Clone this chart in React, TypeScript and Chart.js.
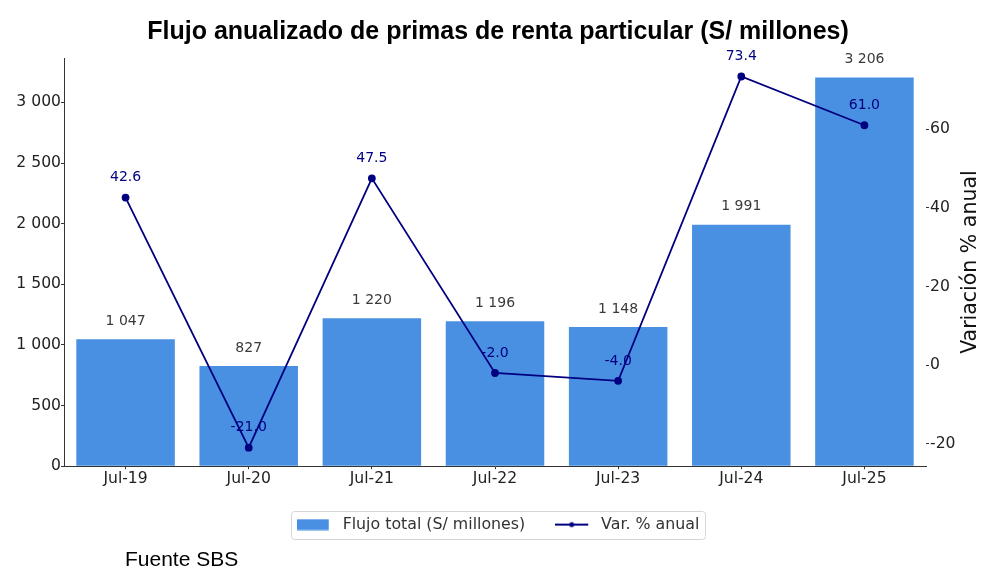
import { useEffect, useRef } from "react"
import { Chart, registerables } from "chart.js"

Chart.register(...registerables)

// datos
const periodos = ["Jul-19", "Jul-20", "Jul-21", "Jul-22", "Jul-23", "Jul-24", "Jul-25"]
const flujoTotal = [1047, 827, 1220, 1196, 1148, 1991, 3206]
const varAnual = [42.6, -21.0, 47.5, -2.0, -4.0, 73.4, 61.0]

// marcas de los ejes
const ticksIzquierda = [0, 500, 1000, 1500, 2000, 2500, 3000]
const ticksDerecha = [-20, 0, 20, 40, 60]

const TITULO = "Flujo anualizado de primas de renta particular (S/ millones)"
const ETIQUETA_BARRAS = "Flujo total (S/ millones)"
const ETIQUETA_LINEA = "Var. % anual"
const TITULO_DERECHA = "Variación % anual"

const AZUL = "#4a90e2"
const NAVY = "#000080"
const EJE = "#333333"
const TEXTO = "#222222"
const FUENTE_TICKS = 15.6

const fmtMiles = (v: number) =>
  Math.round(v).toString().replace(/\B(?=(\d{3})+(?!\d))/g, " ")

function crearMuestra(tipo: "barra" | "linea") {
  const c = document.createElement("canvas")
  c.width = 38
  c.height = 12
  const g = c.getContext("2d")!
  if (tipo === "barra") {
    g.fillStyle = AZUL
    g.fillRect(0, 0.5, 32, 11)
  } else {
    g.strokeStyle = NAVY
    g.fillStyle = NAVY
    g.lineWidth = 2
    g.beginPath()
    g.moveTo(0, 6)
    g.lineTo(33, 6)
    g.stroke()
    g.beginPath()
    g.arc(16.5, 6, 2.5, 0, Math.PI * 2)
    g.fill()
  }
  return c
}

const etiquetasValores = {
  id: "etiquetasValores",
  afterDatasetDraw(chart: any, args: any) {
    if (args.index !== 0) return
    const ctx = chart.ctx
    ctx.save()
    ctx.textAlign = "center"
    ctx.textBaseline = "middle"
    ctx.font = "14px 'DejaVu Sans'"
    ctx.fillStyle = "#3a3a3a"
    chart.getDatasetMeta(0).data.forEach((el: any, i: number) => {
      ctx.fillText(fmtMiles(flujoTotal[i]), el.x, el.y - 18)
    })
    ctx.fillStyle = NAVY
    chart.getDatasetMeta(1).data.forEach((el: any, i: number) => {
      ctx.fillText(varAnual[i].toFixed(1), el.x, el.y - 20)
    })
    ctx.restore()
  },
  afterDraw(chart: any) {
    const ctx = chart.ctx
    const area = chart.chartArea
    // título del eje derecho, leído de abajo hacia arriba
    ctx.save()
    ctx.translate(976, (area.top + area.bottom) / 2)
    ctx.rotate(-Math.PI / 2)
    ctx.textAlign = "center"
    ctx.textBaseline = "alphabetic"
    ctx.font = "20.5px 'DejaVu Sans'"
    ctx.fillStyle = "#111111"
    ctx.fillText(TITULO_DERECHA, 0, 0)
    ctx.restore()

    // marco de la leyenda
    const boxes = chart.legend?.legendHitBoxes || []
    if (!boxes.length) return
    const left = Math.min(...boxes.map((b: any) => b.left)) - 5.5
    const right = Math.max(...boxes.map((b: any) => b.left + b.width)) + 6
    const top = boxes[0].top - 5.5
    const h = boxes[0].height + 12
    ctx.save()
    ctx.strokeStyle = "#d6d6d6"
    ctx.lineWidth = 1
    ctx.beginPath()
    ctx.roundRect(Math.round(left) + 0.5, Math.round(top) + 0.5, Math.round(right - left), Math.round(h), 3)
    ctx.stroke()
    ctx.restore()
  },
}

export default function App() {
  const canvasRef = useRef<HTMLCanvasElement>(null)
  const chartInstance = useRef<Chart | null>(null)

  useEffect(() => {
    document.body.style.margin = "0"
    if (!canvasRef.current) return
    if (chartInstance.current) chartInstance.current.destroy()

    const muestraBarra = crearMuestra("barra")
    const muestraLinea = crearMuestra("linea")

    chartInstance.current = new Chart(canvasRef.current, {
      type: "bar",
      data: {
        labels: periodos,
        datasets: [
          {
            type: "bar",
            label: ETIQUETA_BARRAS,
            data: flujoTotal,
            backgroundColor: AZUL,
            yAxisID: "y",
            barPercentage: 0.8,
            categoryPercentage: 1.0,
            order: 1,
          },
          {
            type: "line",
            label: ETIQUETA_LINEA,
            data: varAnual,
            borderColor: NAVY,
            backgroundColor: NAVY,
            borderWidth: 1.8,
            pointRadius: 3,
            pointBackgroundColor: NAVY,
            pointBorderColor: NAVY,
            tension: 0,
            yAxisID: "y1",
            order: 0,
          } as any,
        ],
      },
      options: {
        responsive: false,
        animation: false,
        events: [],
        layout: { padding: { left: 0, right: 10, top: 0, bottom: 33.5 } },
        scales: {
          x: {
            offset: true,
            grid: { drawOnChartArea: false, drawTicks: true, tickLength: 3, offset: false, color: EJE },
            border: { display: true, color: EJE, width: 1 },
            ticks: { color: TEXTO, font: { family: "DejaVu Sans", size: FUENTE_TICKS }, padding: 0, maxRotation: 0 },
            afterFit: (s: any) => {
              s.height = 20.5
            },
          },
          y: {
            position: "left",
            min: 0,
            max: 3366,
            grid: { drawOnChartArea: false, drawTicks: true, tickLength: 3, color: EJE },
            border: { display: true, color: EJE, width: 1 },
            ticks: {
              color: TEXTO,
              padding: 0,
              font: { family: "DejaVu Sans", size: FUENTE_TICKS },
              callback: (v: any) => fmtMiles(Number(v)),
            },
            afterBuildTicks: (s: any) => {
              s.ticks = ticksIzquierda.map((value) => ({ value }))
            },
            afterFit: (s: any) => {
              s.width = 64
            },
          },
          y1: {
            position: "right",
            min: -25.7,
            max: 78.1,
            grid: { drawOnChartArea: false, drawTicks: true, tickLength: 3, color: EJE },
            border: { display: false },
            ticks: {
              color: TEXTO,
              padding: 1,
              font: { family: "DejaVu Sans", size: FUENTE_TICKS },
              callback: (v: any) => String(v),
            },
            afterBuildTicks: (s: any) => {
              s.ticks = ticksDerecha.map((value) => ({ value }))
            },
            afterFit: (s: any) => {
              s.width = 70
            },
          },
        },
        plugins: {
          title: {
            display: true,
            text: TITULO,
            color: "#000000",
            font: { family: "Liberation Sans", size: 25, weight: "bold" },
            padding: { top: 17, bottom: 11 },
          },
          legend: {
            position: "bottom",
            labels: {
              usePointStyle: true,
              pointStyleWidth: 38,
              padding: 30,
              color: "#333333",
              font: { family: "DejaVu Sans", size: 15.8 },
              generateLabels: () => [
                {
                  text: ETIQUETA_BARRAS,
                  pointStyle: muestraBarra as any,
                  fillStyle: AZUL,
                  strokeStyle: AZUL,
                  lineWidth: 0,
                  hidden: false,
                  datasetIndex: 0,
                  fontColor: "#333333",
                },
                {
                  text: ETIQUETA_LINEA,
                  pointStyle: muestraLinea as any,
                  fillStyle: NAVY,
                  strokeStyle: NAVY,
                  lineWidth: 0,
                  hidden: false,
                  datasetIndex: 1,
                  fontColor: "#333333",
                },
              ],
            },
          },
          tooltip: { enabled: false },
        },
      },
      plugins: [etiquetasValores],
    })

    return () => {
      if (chartInstance.current) {
        chartInstance.current.destroy()
        chartInstance.current = null
      }
    }
  }, [])

  return (
    <div style={{ position: "relative", width: 1006, height: 576, background: "#ffffff" }}>
      <canvas ref={canvasRef} width={1006} height={576} style={{ display: "block" }} />
      <div
        style={{
          position: "absolute",
          left: 125,
          top: 547,
          fontFamily: "'Liberation Sans', Arial, sans-serif",
          fontSize: 21,
          color: "#000000",
          whiteSpace: "nowrap",
        }}
      >
        Fuente SBS
      </div>
    </div>
  )
}
